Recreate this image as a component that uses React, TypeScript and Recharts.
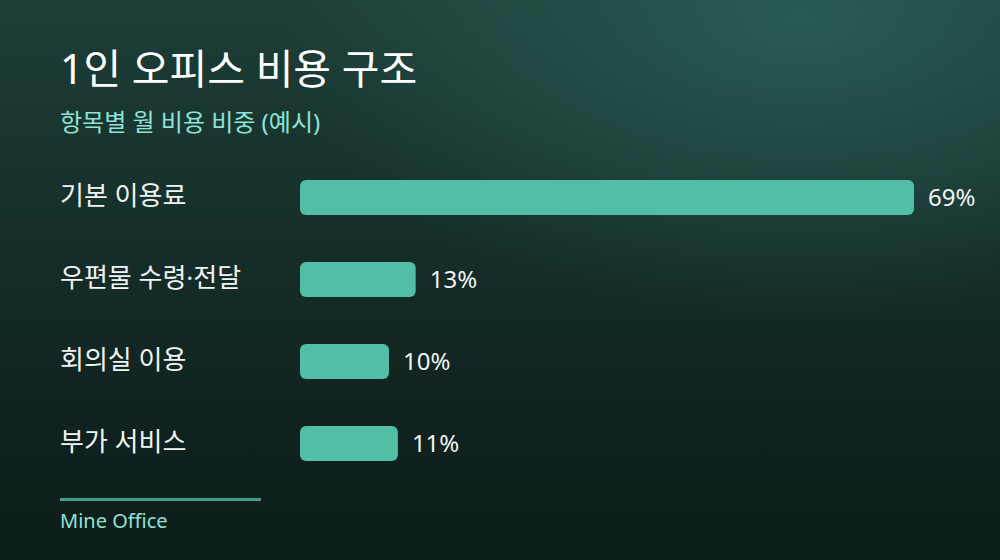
import React from "react";
import { BarChart, Bar, XAxis, YAxis, LabelList } from "recharts";

const categories = ["기본 이용료", "우편물 수령·전달", "회의실 이용", "부가 서비스"];
const shares = [69, 13, 10, 11];

const title = "1인 오피스 비용 구조";
const subtitle = "항목별 월 비용 비중 (예시)";
const source = "Mine Office";

const data = categories.map((name, i) => ({ name, value: shares[i] }));

const FONT = "'Noto Sans', 'Noto Sans CJK KR', sans-serif";

const CategoryTick = (props: any) => {
  const { y, payload } = props;
  return (
    <text
      x={60}
      y={y}
      dy={8}
      textAnchor="start"
      fill="#f1f5f4"
      fontSize={26}
      fontFamily={FONT}
    >
      {payload.value}
    </text>
  );
};

export default function App() {
  return (
    <div
      style={{
        position: "absolute",
        left: 0,
        top: 0,
        width: 1000,
        height: 560,
        overflow: "hidden",
        fontFamily: FONT,
        background:
          "radial-gradient(ellipse 520px 300px at 800px 20px, rgba(44,100,92,0.75) 0%, rgba(44,100,92,0) 100%), linear-gradient(180deg, #1e3e38 0%, #162f2b 40%, #10221f 75%, #0c1c19 100%)",
      }}
    >
      <div
        style={{
          position: "absolute",
          left: 60,
          top: 42,
          fontSize: 41,
          lineHeight: "52px",
          color: "#ffffff",
          fontWeight: 400,
          whiteSpace: "nowrap",
        }}
      >
        {title}
      </div>
      <div
        style={{
          position: "absolute",
          left: 60,
          top: 106,
          fontSize: 24,
          lineHeight: "32px",
          color: "#8fe3d6",
          whiteSpace: "nowrap",
        }}
      >
        {subtitle}
      </div>
      <div style={{ position: "absolute", left: 0, top: 156 }}>
        <BarChart
          width={1000}
          height={328}
          data={data}
          layout="vertical"
          margin={{ top: 0, right: 86, bottom: 0, left: 0 }}
          barCategoryGap={23}
        >
          <XAxis type="number" hide domain={[0, "dataMax"]} />
          <YAxis
            type="category"
            dataKey="name"
            width={300}
            axisLine={false}
            tickLine={false}
            tick={<CategoryTick />}
          />
          <Bar
            dataKey="value"
            fill="#53bea6"
            barSize={35}
            radius={6}
            isAnimationActive={false}
          >
            <LabelList
              dataKey="value"
              position="right"
              offset={14}
              formatter={(v: any) => `${v}%`}
              fill="#f1f5f4"
              fontSize={24}
              fontFamily={FONT}
            />
          </Bar>
        </BarChart>
      </div>
      <div
        style={{
          position: "absolute",
          left: 60,
          top: 498,
          width: 201,
          height: 3,
          background: "#3f9d88",
        }}
      />
      <div
        style={{
          position: "absolute",
          left: 60,
          top: 507,
          fontSize: 20,
          lineHeight: "28px",
          color: "#8fe3d6",
          whiteSpace: "nowrap",
        }}
      >
        {source}
      </div>
    </div>
  );
}
